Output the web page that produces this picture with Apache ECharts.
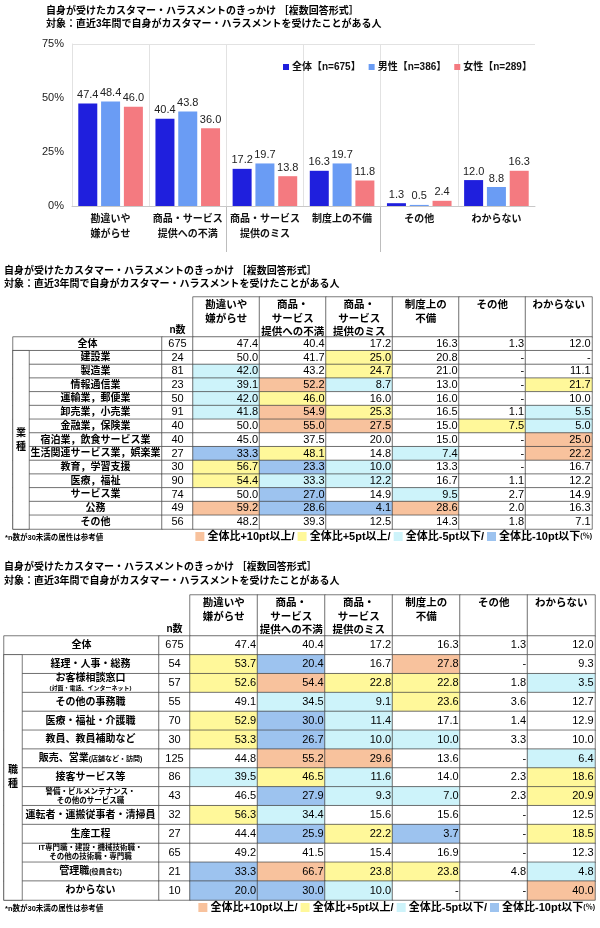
<!DOCTYPE html>
<html><head><meta charset="utf-8">
<script src="https://cdn.jsdelivr.net/npm/echarts@6/dist/echarts.min.js"></script>
<style>html,body{margin:0;padding:0;background:#fff}#c{width:600px;height:928px}</style>
</head><body><div id="c"></div>
<script>
// ---------------- DATA ----------------
const barCategories = ['勘違いや\n嫌がらせ', '商品・サービス\n提供への不満', '商品・サービス\n提供のミス', '制度上の不備', 'その他', 'わからない'];
const seriesNames = ['全体【n=675】', '男性【n=386】', '女性【n=289】'];
const totalValues = [47.4, 40.4, 17.2, 16.3, 1.3, 12.0];
const maleValues = [48.4, 43.8, 19.7, 19.7, 0.5, 8.8];
const femaleValues = [46.0, 36.0, 13.8, 11.8, 2.4, 16.3];
const yTicks = [0, 25, 50, 75];

const tableHeaders = ['勘違いや\n嫌がらせ', '商品・\nサービス\n提供への不満', '商品・\nサービス\n提供のミス', '制度上の\n不備', 'その他', 'わからない'];

const industryRows = ['全体', '建設業', '製造業', '情報通信業', '運輸業，郵便業', '卸売業，小売業', '金融業，保険業', '宿泊業，飲食サービス業', '生活関連サービス業，娯楽業', '教育，学習支援', '医療，福祉', 'サービス業', '公務', 'その他'];
const industryN = [675, 24, 81, 23, 50, 91, 40, 40, 27, 30, 90, 74, 49, 56];
const industryValues = [
  [47.4, 40.4, 17.2, 16.3, 1.3, 12.0],
  [50.0, 41.7, 25.0, 20.8, null, null],
  [42.0, 43.2, 24.7, 21.0, null, 11.1],
  [39.1, 52.2, 8.7, 13.0, null, 21.7],
  [42.0, 46.0, 16.0, 16.0, null, 10.0],
  [41.8, 54.9, 25.3, 16.5, 1.1, 5.5],
  [50.0, 55.0, 27.5, 15.0, 7.5, 5.0],
  [45.0, 37.5, 20.0, 15.0, null, 25.0],
  [33.3, 48.1, 14.8, 7.4, null, 22.2],
  [56.7, 23.3, 10.0, 13.3, null, 16.7],
  [54.4, 33.3, 12.2, 16.7, 1.1, 12.2],
  [50.0, 27.0, 14.9, 9.5, 2.7, 14.9],
  [59.2, 28.6, 4.1, 28.6, 2.0, 16.3],
  [48.2, 39.3, 12.5, 14.3, 1.8, 7.1]
];
// O: +10pt, Y: +5pt, C: -5pt, B: -10pt
const industryMarks = ['......', '..Y...', 'C.Y...', 'COC..Y', 'CY....', 'COY..C', '.OO.YC', '.....O', 'BY.C.O', 'YBC...', 'YCC...', '.B.C..', 'OBBO..', '......'];

const jobRows = ['全体', '経理・人事・総務', 'お客様相談窓口|(対面・電話、インターネット)', 'その他の事務職', '医療・福祉・介護職', '教員、教員補助など', '販売、営業|(店舗など・訪問)', '接客サービス等', '警備・ビルメンテナンス・|その他のサービス職', '運転者・運搬従事者・清掃員', '生産工程', 'IT専門職・建設・機械技術職・|その他の技術職・専門職', '管理職|(役員含む)', 'わからない'];
const jobN = [675, 54, 57, 55, 70, 30, 125, 86, 43, 32, 27, 65, 21, 10];
const jobValues = [
  [47.4, 40.4, 17.2, 16.3, 1.3, 12.0],
  [53.7, 20.4, 16.7, 27.8, null, 9.3],
  [52.6, 54.4, 22.8, 22.8, 1.8, 3.5],
  [49.1, 34.5, 9.1, 23.6, 3.6, 12.7],
  [52.9, 30.0, 11.4, 17.1, 1.4, 12.9],
  [53.3, 26.7, 10.0, 10.0, 3.3, 10.0],
  [44.8, 55.2, 29.6, 13.6, null, 6.4],
  [39.5, 46.5, 11.6, 14.0, 2.3, 18.6],
  [46.5, 27.9, 9.3, 7.0, 2.3, 20.9],
  [56.3, 34.4, 15.6, 15.6, null, 12.5],
  [44.4, 25.9, 22.2, 3.7, null, 18.5],
  [49.2, 41.5, 15.4, 16.9, null, 12.3],
  [33.3, 66.7, 23.8, 23.8, 4.8, 4.8],
  [20.0, 30.0, 10.0, null, null, 40.0]
];
const jobMarks = ['......', 'YB.O..', 'YOYY.C', '.CCY..', 'YBC...', 'YBCC..', '.OO..C', 'CYC..Y', '.BCC.Y', 'YC....', '.BYB.Y', '......', 'BOYY.C', 'BBC..O'];
// how each job label is typeset: inline small suffix, small caption below, or two small lines
const jobLabelStyle = ['', '', 'below', '', '', '', 'inline', '', 'two', '', '', 'two', 'inline', ''];

// ---------------- STYLE ----------------
const FONT = "'Liberation Sans', 'Noto Sans CJK JP', sans-serif";
const markColors = { O: '#F8C29D', Y: '#FFF89A', C: '#CDF3FA', B: '#9DC3EF', '.': '#FFFFFF' };
const barColors = ['#1F1FDD', '#6A9CF4', '#F47A80'];
const BORDER = '#444';

const grids = [], xAxes = [], yAxes = [], series = [];

function addPanel(rect, xCats, yCats, data, seriesOpt, xAxisOpt) {
  const gi = grids.length;
  grids.push(Object.assign({ containLabel: false }, rect));
  xAxes.push(Object.assign({ type: 'category', gridIndex: gi, data: xCats, show: false }, xAxisOpt || {}));
  yAxes.push({ type: 'category', gridIndex: gi, data: yCats, inverse: true, show: false });
  series.push(Object.assign({
    type: 'heatmap', xAxisIndex: gi, yAxisIndex: gi, data: data,
    itemStyle: { borderColor: BORDER, borderWidth: 0.7, color: '#fff' },
    emphasis: { disabled: true }, silent: true
  }, seriesOpt));
}

function jobLabelText(i) {
  const parts = jobRows[i].split('|');
  const st = jobLabelStyle[i];
  if (st === 'below') return '{m|' + parts[0] + '}\n{xs|' + parts[1] + '}';
  if (st === 'inline') return '{m|' + parts[0] + '}{s|' + parts[1] + '}';
  if (st === 'two') return '{s2|' + parts[0] + '}\n{s2|' + parts[1] + '}';
  return '{m|' + parts[0] + '}';
}

function makeTable(t, rows, nVals, vals, marks, groupName, labelFn) {
  const nRows = rows.length;
  const rowIdx = rows.map((_, i) => i);
  const rowH = (t.bodyBottom - t.bodyTop) / nRows;
  const colIdx = tableHeaders.map((_, i) => i);
  const valW = t.right - t.nRight;
  // header
  addPanel({ left: t.nRight, top: t.headTop, width: valW, height: t.bodyTop - t.headTop }, colIdx, [0],
    colIdx.map(c => [c, 0, 1]),
    { label: { show: true, position: 'insideTop', distance: 2, fontSize: 10.5, fontWeight: 'bold', color: '#000', lineHeight: 13.5, fontFamily: FONT,
      formatter: p => tableHeaders[p.data[0]] } });
  // row labels
  const labelData = rowIdx.map(r => ({ value: [0, r, 1], label: r === 0 ? {} : { offset: [(t.groupRight - t.left) / 2, 0] } }));
  addPanel({ left: t.left, top: t.bodyTop, width: t.labelRight - t.left, height: t.bodyBottom - t.bodyTop }, [0], rowIdx,
    labelData,
    { label: { show: true, position: 'inside', fontSize: 10, fontWeight: 'bold', color: '#000', fontFamily: FONT,
      formatter: p => labelFn(p.data.value[1]),
      rich: {
        m: { fontSize: 10, fontWeight: 'bold', color: '#000', fontFamily: FONT },
        s: { fontSize: 7, fontWeight: 'bold', color: '#000', fontFamily: FONT },
        xs: { fontSize: 6, fontWeight: 'bold', color: '#000', fontFamily: FONT, lineHeight: 9 },
        s2: { fontSize: 7.5, fontWeight: 'bold', color: '#000', fontFamily: FONT, lineHeight: 9 }
      } } });
  // group column
  addPanel({ left: t.left, top: t.bodyTop + rowH, width: t.groupRight - t.left, height: t.bodyBottom - t.bodyTop - rowH }, [0], [0],
    [[0, 0, 1]],
    { z: 5, label: { show: true, position: 'inside', fontSize: 10, fontWeight: 'bold', color: '#000', lineHeight: 14, fontFamily: FONT,
      formatter: () => groupName.split('').join('\n') } });
  // n column
  addPanel({ left: t.labelRight, top: t.bodyTop, width: t.nRight - t.labelRight, height: t.bodyBottom - t.bodyTop }, ['n数'], rowIdx,
    rowIdx.map(r => [0, r, 1]),
    { label: { show: true, position: 'inside', fontSize: 11, color: '#000', fontFamily: FONT, formatter: p => String(nVals[p.data[1]]) } },
    { show: true, position: 'top', axisLine: { show: false }, axisTick: { show: false },
      axisLabel: { margin: 2, fontSize: 10, fontWeight: 'bold', color: '#000', fontFamily: FONT } });
  // values
  const vData = [];
  rowIdx.forEach(r => colIdx.forEach(c => {
    vData.push({ value: [c, r, 1], itemStyle: { color: markColors[marks[r][c]] } });
  }));
  addPanel({ left: t.nRight, top: t.bodyTop, width: valW, height: t.bodyBottom - t.bodyTop }, colIdx, rowIdx,
    vData,
    { label: { show: true, position: 'insideRight', distance: 2, fontSize: 11, color: '#000', fontFamily: FONT,
      formatter: p => { const v = vals[p.data.value[1]][p.data.value[0]]; return v === null ? '-' : v.toFixed(1); } } });
}

// ---------------- BAR CHART ----------------
grids.push({ left: 72, right: 65, top: 44, height: 162 });
xAxes.push({ type: 'category', gridIndex: 0, data: barCategories,
  axisLine: { lineStyle: { color: '#c8c8c8' } }, axisTick: { show: false },
  axisLabel: { interval: 0, margin: 6, fontSize: 10, fontWeight: 'bold', color: '#111', lineHeight: 15, fontFamily: FONT },
  splitLine: { show: true, showMinLine: false, showMaxLine: false, lineStyle: { color: '#e2e2e2' } } });
yAxes.push({ type: 'value', gridIndex: 0, min: 0, max: 75, interval: 25,
  axisLine: { show: true, lineStyle: { color: '#e2e2e2' } }, axisTick: { show: false },
  axisLabel: { formatter: '{value}%', fontSize: 11, color: '#222', margin: 8, fontFamily: FONT },
  splitLine: { show: true, lineStyle: { color: ['rgba(0,0,0,0)', 'rgba(0,0,0,0)', 'rgba(0,0,0,0)', '#e2e2e2'] } } });
// lower dividers under the category axis
grids.push({ left: 72, right: 65, top: 206, height: 46 });
xAxes.push({ type: 'category', gridIndex: 1, data: barCategories, axisLine: { show: false }, axisTick: { show: false }, axisLabel: { show: false },
  splitLine: { show: true, showMinLine: false, showMaxLine: false, lineStyle: { color: '#bdbdbd' } } });
yAxes.push({ type: 'value', gridIndex: 1, show: false, min: 0, max: 1, splitLine: { show: false } });

[totalValues, maleValues, femaleValues].forEach((vals, i) => {
  series.push({ type: 'bar', name: seriesNames[i], xAxisIndex: 0, yAxisIndex: 0, data: vals,
    barWidth: 19, barGap: '20%', itemStyle: { color: barColors[i] },
    label: { show: true, position: 'top', distance: 3, fontSize: 11, color: '#222', fontFamily: FONT, formatter: p => p.value.toFixed(1) } });
});

// ---------------- TABLES ----------------
makeTable({ left: 13, groupRight: 29, labelRight: 162, nRight: 193, right: 592, headTop: 297, bodyTop: 337, bodyBottom: 529 },
  industryRows, industryN, industryValues, industryMarks, '業種', i => '{m|' + industryRows[i] + '}');
makeTable({ left: 4, groupRight: 22, labelRight: 159, nRight: 190, right: 595, headTop: 595, bodyTop: 636, bodyBottom: 900 },
  jobRows, jobN, jobValues, jobMarks, '職種', jobLabelText);

// ---------------- TEXTS ----------------
const T1 = '自身が受けたカスタマー・ハラスメントのきっかけ ［複数回答形式］';
const T2 = '対象：直近3年間で自身がカスタマー・ハラスメントを受けたことがある人';
const FOOT = '*n数が30未満の属性は参考値';
const legendText = '{o|}{t| 全体比+10pt以上/ }{y|}{t| 全体比+5pt以上/ }{c|}{t| 全体比-5pt以下/ }{b|}{t| 全体比-10pt以下}{p|(％)}';
const sq = c => ({ width: 9, height: 9, backgroundColor: c });
const legendRich = { o: sq(markColors.O), y: sq(markColors.Y), c: sq(markColors.C), b: sq(markColors.B),
  t: { fontSize: 11, fontWeight: 'bold', color: '#000', fontFamily: FONT }, p: { fontSize: 7, color: '#000', fontFamily: FONT } };
const tStyle = { fontSize: 10, fontWeight: 'bold', color: '#000', fontFamily: FONT };
const titles = [
  { text: T1, left: 46, top: 6 }, { text: T2, left: 46, top: 19 },
  { text: T1, left: 4, top: 266 }, { text: T2, left: 4, top: 279 },
  { text: T1, left: 4, top: 562 }, { text: T2, left: 4, top: 576 },
  { text: FOOT, left: 5, top: 534, textStyle: { fontSize: 7.5, fontWeight: 'bold', color: '#000', fontFamily: FONT } },
  { text: FOOT, left: 5, top: 905, textStyle: { fontSize: 7.5, fontWeight: 'bold', color: '#000', fontFamily: FONT } },
  { text: legendText, right: 8, top: 531, textStyle: { rich: legendRich } },
  { text: legendText, right: 5, top: 902, textStyle: { rich: legendRich } }
].map(o => Object.assign({ padding: 0, textStyle: tStyle }, o));

const chart = echarts.init(document.getElementById('c'), null, { renderer: 'canvas' });
chart.setOption({
  animation: false,
  textStyle: { fontFamily: FONT },
  title: titles,
  legend: { left: 278, top: 57, icon: 'rect', itemWidth: 6, itemHeight: 6, itemGap: 8, data: seriesNames,
    textStyle: { fontSize: 10, fontWeight: 'bold', color: '#111', fontFamily: FONT, padding: [0, 0, 0, -2] } },
  grid: grids, xAxis: xAxes, yAxis: yAxes, series: series
});
</script></body></html>
